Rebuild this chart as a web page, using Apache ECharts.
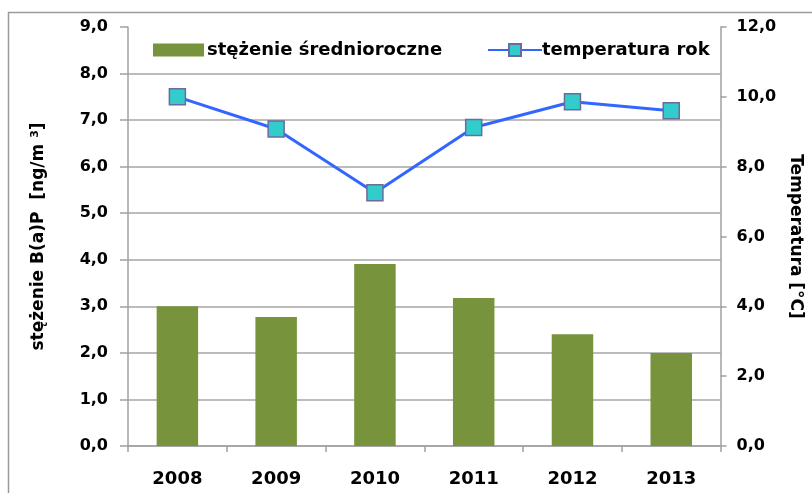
<!DOCTYPE html>
<html>
<head>
<meta charset="utf-8">
<script src="https://cdn.jsdelivr.net/npm/echarts@6/dist/echarts.min.js"></script>
<style>
html,body{margin:0;padding:0;background:#fff;}
#chart{width:812px;height:493px;}
</style>
</head>
<body>
<div id="chart"></div>
<script>
var years = ['2008', '2009', '2010', '2011', '2012', '2013'];
var concentration = [3.0, 2.77, 3.91, 3.18, 2.40, 2.0];
var temperature = [10.0, 9.08, 7.25, 9.12, 9.86, 9.60];
var barName = 'stężenie średnioroczne';
var lineName = 'temperatura rok';
var leftAxisName = 'stężenie B(a)P  [ng/m {s|3}]';
var rightAxisName = 'Temperatura [°C]';

var FONT = 'DejaVu Sans';
function fmt(v){ return v.toFixed(1).replace('.', ','); }
var gridColors = [];
for (var i = 0; i < 9; i++) gridColors.push('#a6a6a6');
gridColors.push('rgba(0,0,0,0)');

var chart = echarts.init(document.getElementById('chart'), null, {renderer: 'canvas'});
chart.setOption({
  animation: false,
  backgroundColor: '#ffffff',
  textStyle: {fontFamily: FONT},
  graphic: [{
    type: 'rect', silent: true, z: -10,
    shape: {x: 8.5, y: 12.5, width: 900, height: 600},
    style: {fill: 'none', stroke: '#9a9a9a', lineWidth: 1.5}
  }],
  grid: {left: 128, right: 79, top: 27, bottom: 47},
  legend: [{
    data: [barName],
    left: 148, top: 36,
    itemWidth: 51, itemHeight: 13, itemGap: 4,
    icon: 'rect',
    textStyle: {fontFamily: FONT, fontWeight: 'bold', fontSize: 18, color: '#000', padding: [0,0,0,-2]}
  }, {
    data: [lineName],
    left: 482, top: 36,
    itemWidth: 54, itemHeight: 15,
    textStyle: {fontFamily: FONT, fontWeight: 'bold', fontSize: 18, color: '#000', padding: [0,0,0,-5]}
  }],
  xAxis: {
    type: 'category',
    data: years,
    boundaryGap: true,
    axisLine: {lineStyle: {color: '#a0a0a0', width: 1.5}},
    axisTick: {show: true, length: 6, lineStyle: {color: '#a0a0a0', width: 1.5}},
    axisLabel: {color: '#000', fontWeight: 'bold', fontSize: 18, margin: 24, fontFamily: FONT},
    splitLine: {show: false}
  },
  yAxis: [{
    type: 'value',
    min: 0, max: 9, interval: 1,
    position: 'left',
    name: leftAxisName,
    nameLocation: 'middle',
    nameRotate: 90,
    nameGap: 80,
    nameTextStyle: {color: '#000', fontWeight: 'bold', fontSize: 17, fontFamily: FONT,
      rich: {s: {fontSize: 11, fontWeight: 'bold', verticalAlign: 'top', padding: [0,0,7,0]}}},
    axisLine: {show: true, lineStyle: {color: '#a0a0a0', width: 1.5}},
    axisTick: {show: true, length: 8, lineStyle: {color: '#a0a0a0', width: 1.5}},
    axisLabel: {color: '#000', fontWeight: 'bold', fontSize: 16, margin: 20, formatter: fmt, fontFamily: FONT},
    splitLine: {show: true, lineStyle: {color: gridColors, width: 1.5}}
  }, {
    type: 'value',
    min: 0, max: 12, interval: 2,
    position: 'right',
    name: rightAxisName,
    nameLocation: 'middle',
    nameRotate: -90,
    nameGap: 56,
    nameTextStyle: {color: '#000', fontWeight: 'bold', fontSize: 17, fontFamily: FONT},
    axisLine: {show: true, lineStyle: {color: '#a0a0a0', width: 1.5}},
    axisTick: {show: true, length: 6, lineStyle: {color: '#a0a0a0', width: 1.5}},
    axisLabel: {color: '#000', fontWeight: 'bold', fontSize: 16, margin: 16, formatter: fmt, fontFamily: FONT},
    splitLine: {show: false}
  }],
  series: [{
    name: barName,
    type: 'bar',
    yAxisIndex: 0,
    data: concentration,
    barWidth: '42%',
    itemStyle: {color: '#77933C'}
  }, {
    name: lineName,
    type: 'line',
    yAxisIndex: 1,
    data: temperature,
    symbol: 'rect',
    symbolSize: 16,
    lineStyle: {color: '#3366FF', width: 3},
    itemStyle: {color: '#33CCCC', borderColor: '#6b6b9e', borderWidth: 1.5}
  }]
});
</script>
</body>
</html>
